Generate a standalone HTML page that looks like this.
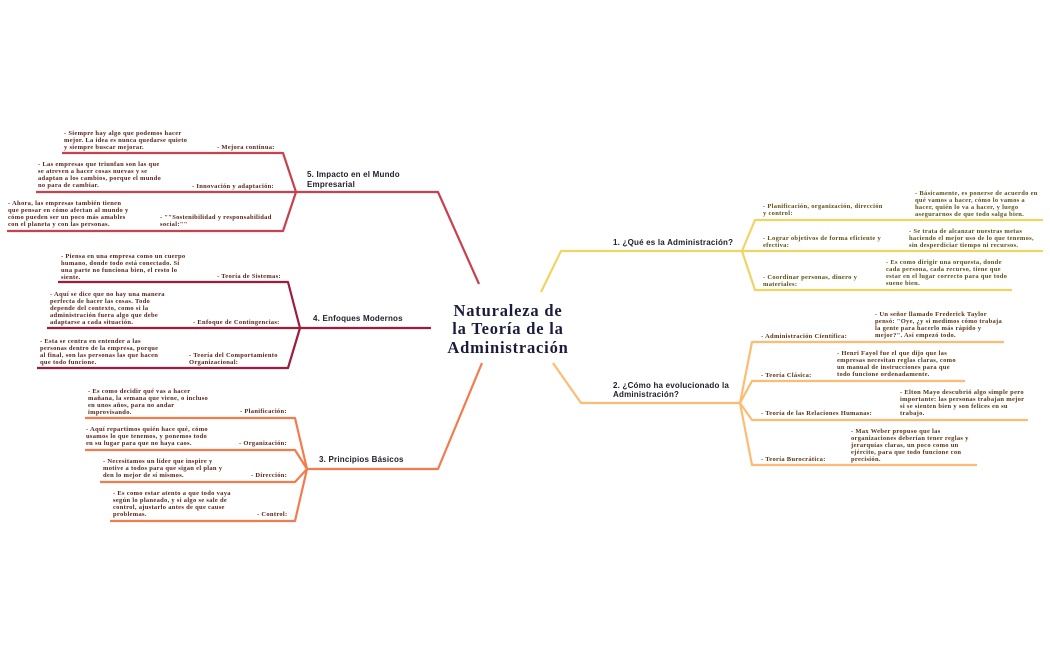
<!DOCTYPE html>
<html><head><meta charset="utf-8"><style>
html,body{margin:0;padding:0;background:#fff;width:1050px;height:650px;overflow:hidden}
svg{display:block}
.t{font-family:"Liberation Serif",serif;font-weight:bold;font-size:6.5px;letter-spacing:0.3px}
.l{fill:#5a2418}.y{fill:#5e4f14}.o{fill:#5a3410}
.h{font-family:"Liberation Sans",sans-serif;font-weight:bold;font-size:8px;fill:#1e1e2a;letter-spacing:0.2px}
</style></head><body>
<svg width="1050" height="650" viewBox="0 0 1050 650" xmlns="http://www.w3.org/2000/svg">
<g fill="none" stroke-width="2.2" stroke-linejoin="round">
<g stroke="#c8414f">
<polyline points="479,284 438,192 296,192"/>
<polyline points="62,153 283,153 296,192 283,231 7,231"/>
<line x1="36" y1="192" x2="296" y2="192"/>
</g>
<g stroke="#9e1c3c">
<line x1="431" y1="328" x2="300" y2="328"/>
<polyline points="58,282 288,282 300,328 288,368 37,368"/>
<line x1="47" y1="328" x2="300" y2="328"/>
</g>
<g stroke="#f27c4e">
<polyline points="482,363 438,469 307,469"/>
<polyline points="85,418 295,418 307,469 295,521 110,521"/>
<polyline points="85,450 295,450 307,469 295,482 100,482"/>
</g>
<g stroke="#f2d463">
<polyline points="541,292 561,251 742,251"/>
<polyline points="1043,220 755,220 742,251 755,290 1012,290"/>
<line x1="742" y1="251" x2="1043" y2="251"/>
</g>
<g stroke="#fbbd74">
<polyline points="553,363 581,403 740,403"/>
<polyline points="1004,342 752,342 740,403 752,420 1028,420"/>
<polyline points="965,381 752,381 740,403 752,465 977,465"/>
</g>
</g>

<g font-family="Liberation Serif,serif" font-weight="bold" font-size="16.5" fill="#1b1b3c" text-anchor="middle" letter-spacing="0.8">
<text x="508" y="316">Naturaleza de</text>
<text x="508" y="334">la Teoría de la</text>
<text x="508" y="353">Administración</text>
</g>

<text class="h" x="307" y="177">5. Impacto en el Mundo</text>
<text class="h" x="307" y="187">Empresarial</text>
<text class="h" x="313" y="321">4. Enfoques Modernos</text>
<text class="h" x="319" y="462">3. Principios Básicos</text>
<text class="h" x="613" y="245">1. ¿Qué es la Administración?</text>
<text class="h" x="613" y="388">2. ¿Cómo ha evolucionado la</text>
<text class="h" x="613" y="397">Administración?</text>

<g class="t l">
<text x="64" y="135">- Siempre hay algo que podemos hacer</text>
<text x="64" y="142">mejor. La idea es nunca quedarse quieto</text>
<text x="64" y="149">y siempre buscar mejorar.</text>
<text x="217" y="149">- Mejora continua:</text>
<text x="38" y="166">- Las empresas que triunfan son las que</text>
<text x="38" y="173">se atreven a hacer cosas nuevas y se</text>
<text x="38" y="180">adaptan a los cambios, porque el mundo</text>
<text x="38" y="187">no para de cambiar.</text>
<text x="192" y="188">- Innovación y adaptación:</text>
<text x="8" y="205">- Ahora, las empresas también tienen</text>
<text x="8" y="212">que pensar en cómo afectan al mundo y</text>
<text x="8" y="219">cómo pueden ser un poco más amables</text>
<text x="8" y="226">con el planeta y con las personas.</text>
<text x="160" y="219">- ""Sostenibilidad y responsabilidad</text>
<text x="160" y="226">social:""</text>
<text x="61" y="258">- Piensa en una empresa como un cuerpo</text>
<text x="61" y="265">humano, donde todo está conectado. Si</text>
<text x="61" y="272">una parte no funciona bien, el resto lo</text>
<text x="61" y="279">siente.</text>
<text x="217" y="278">- Teoría de Sistemas:</text>
<text x="50" y="296">- Aquí se dice que no hay una manera</text>
<text x="50" y="303">perfecta de hacer las cosas. Todo</text>
<text x="50" y="310">depende del contexto, como si la</text>
<text x="50" y="317">administración fuera algo que debe</text>
<text x="50" y="324">adaptarse a cada situación.</text>
<text x="193" y="324">- Enfoque de Contingencias:</text>
<text x="40" y="343">- Esta se centra en entender a las</text>
<text x="40" y="350">personas dentro de la empresa, porque</text>
<text x="40" y="357">al final, son las personas las que hacen</text>
<text x="40" y="364">que todo funcione.</text>
<text x="189" y="357">- Teoría del Comportamiento</text>
<text x="189" y="364">Organizacional:</text>
<text x="88" y="393">- Es como decidir qué vas a hacer</text>
<text x="88" y="400">mañana, la semana que viene, o incluso</text>
<text x="88" y="407">en unos años, para no andar</text>
<text x="88" y="414">improvisando.</text>
<text x="240" y="413">- Planificación:</text>
<text x="86" y="431">- Aquí repartimos quién hace qué, cómo</text>
<text x="86" y="438">usamos lo que tenemos, y ponemos todo</text>
<text x="86" y="445">en su lugar para que no haya caos.</text>
<text x="239" y="445">- Organización:</text>
<text x="103" y="463">- Necesitamos un líder que inspire y</text>
<text x="103" y="470">motive a todos para que sigan el plan y</text>
<text x="103" y="477">den lo mejor de sí mismos.</text>
<text x="251" y="477">- Dirección:</text>
<text x="113" y="495">- Es como estar atento a que todo vaya</text>
<text x="113" y="502">según lo planeado, y si algo se sale de</text>
<text x="113" y="509">control, ajustarlo antes de que cause</text>
<text x="113" y="516">problemas.</text>
<text x="257" y="516">- Control:</text>
</g>

<g class="t y">
<text x="915" y="195">- Básicamente, es ponerse de acuerdo en</text>
<text x="915" y="202">qué vamos a hacer, cómo lo vamos a</text>
<text x="915" y="209">hacer, quién lo va a hacer, y luego</text>
<text x="915" y="216">asegurarnos de que todo salga bien.</text>
<text x="763" y="208">- Planificación, organización, dirección</text>
<text x="763" y="215">y control:</text>
<text x="909" y="233">- Se trata de alcanzar nuestras metas</text>
<text x="909" y="240">haciendo el mejor uso de lo que tenemos,</text>
<text x="909" y="247">sin desperdiciar tiempo ni recursos.</text>
<text x="763" y="240">- Lograr objetivos de forma eficiente y</text>
<text x="763" y="247">efectiva:</text>
<text x="886" y="264">- Es como dirigir una orquesta, donde</text>
<text x="886" y="271">cada persona, cada recurso, tiene que</text>
<text x="886" y="278">estar en el lugar correcto para que todo</text>
<text x="886" y="285">suene bien.</text>
<text x="763" y="279">- Coordinar personas, dinero y</text>
<text x="763" y="286">materiales:</text>
</g>

<g class="t o">
<text x="875" y="316">- Un señor llamado Frederick Taylor</text>
<text x="875" y="323">pensó: "Oye, ¿y si medimos cómo trabaja</text>
<text x="875" y="330">la gente para hacerlo más rápido y</text>
<text x="875" y="337">mejor?". Así empezó todo.</text>
<text x="761" y="338">- Administración Científica:</text>
<text x="837" y="355">- Henri Fayol fue el que dijo que las</text>
<text x="837" y="362">empresas necesitan reglas claras, como</text>
<text x="837" y="369">un manual de instrucciones para que</text>
<text x="837" y="376">todo funcione ordenadamente.</text>
<text x="761" y="377">- Teoría Clásica:</text>
<text x="900" y="394">- Elton Mayo descubrió algo simple pero</text>
<text x="900" y="401">importante: las personas trabajan mejor</text>
<text x="900" y="408">si se sienten bien y son felices en su</text>
<text x="900" y="415">trabajo.</text>
<text x="761" y="415">- Teoría de las Relaciones Humanas:</text>
<text x="851" y="433">- Max Weber propuso que las</text>
<text x="851" y="440">organizaciones deberían tener reglas y</text>
<text x="851" y="447">jerarquías claras, un poco como un</text>
<text x="851" y="454">ejército, para que todo funcione con</text>
<text x="851" y="461">precisión.</text>
<text x="761" y="461">- Teoría Burocrática:</text>
</g>
</svg>
</body></html>
